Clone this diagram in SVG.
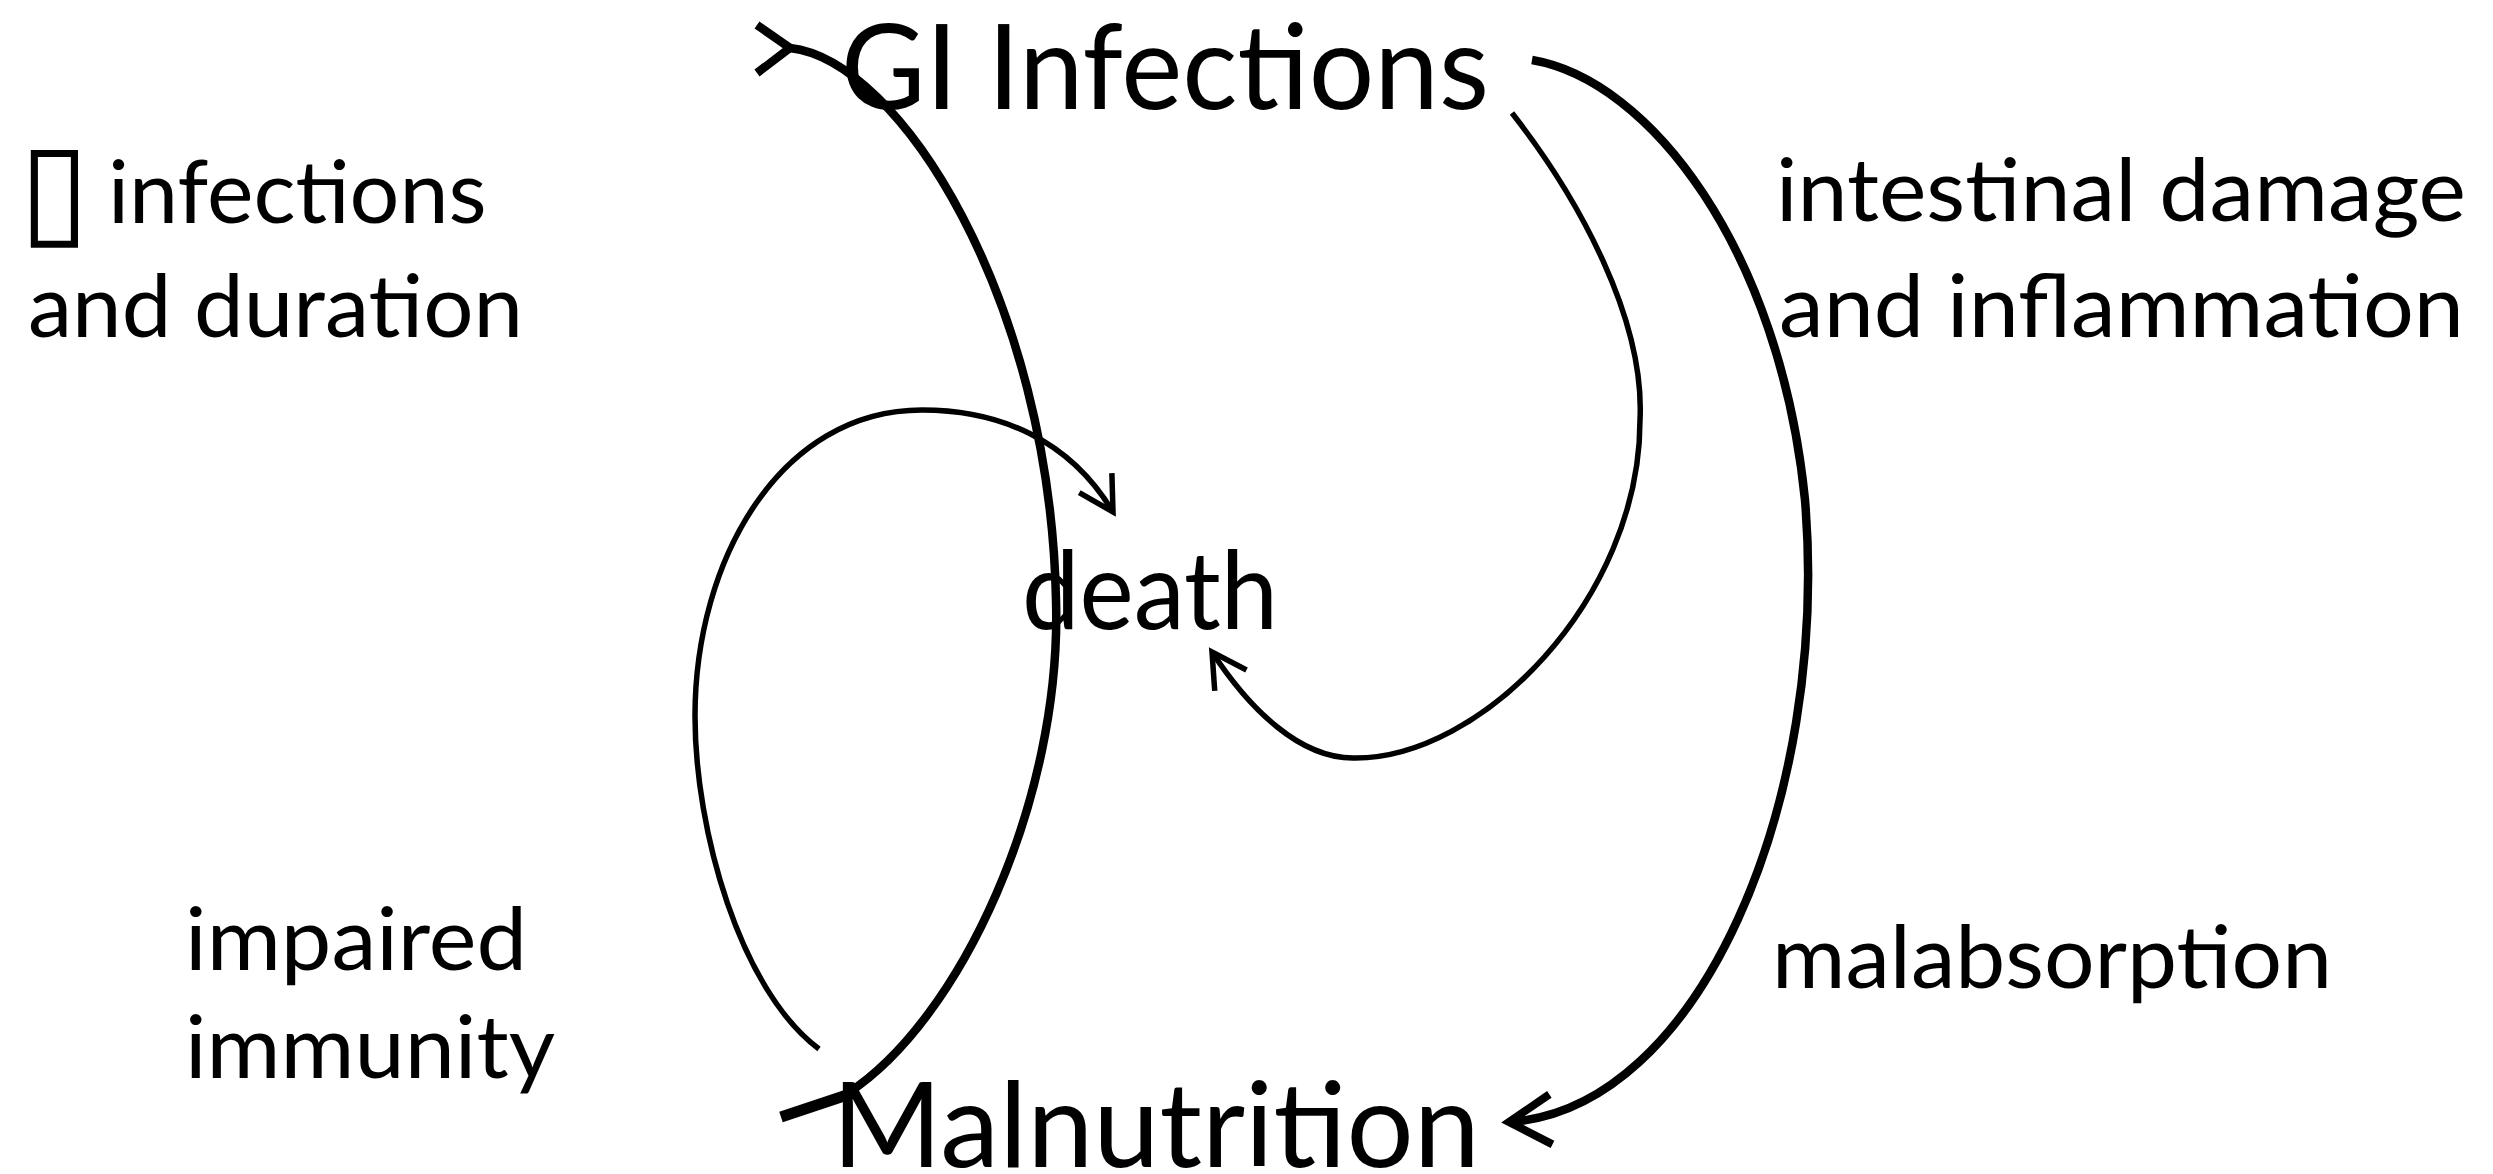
<svg xmlns="http://www.w3.org/2000/svg" width="2493" height="1174" viewBox="0 0 2493 1174">
<style>
.node{font-family:Lato,"Liberation Sans",sans-serif;font-size:118px;fill:#000}
.lbl{font-family:Lato,"Liberation Sans",sans-serif;font-size:88px;fill:#000}
.box{font-family:"DejaVu Sans",sans-serif;font-size:128px}
.c{fill:none;stroke:#000;stroke-linecap:butt;stroke-linejoin:miter}
.thick{stroke-width:8.5}
.thin{stroke-width:5.5}
</style>
<defs>
<marker id="open" markerUnits="userSpaceOnUse" orient="auto" markerWidth="60" markerHeight="60" refX="0" refY="0" viewBox="-50 -30 60 60" overflow="visible">
<path d="M -34 -19 L 0 0 L -34 19" fill="none" stroke="#000" stroke-width="5.5"/>
</marker>
<marker id="openBig" markerUnits="userSpaceOnUse" orient="auto" markerWidth="60" markerHeight="60" refX="0" refY="0" viewBox="-50 -30 60 60" overflow="visible">
<path d="M -42 -25 L 0 0 L -42 25" fill="none" stroke="#000" stroke-width="8"/>
</marker>
</defs>
<rect width="2493" height="1174" fill="#fff"/>
<g id="connectors">
<path id="mal-to-gi" class="c thick" d="M 848 1093 C 960 1020 1062 800 1056 600 C 1050 300 900 60 790 48"/>
<path class="c thick" d="M 757 25 L 790 48 L 757 73"/>
<path class="c" stroke-width="11" d="M 850 1094 L 781 1117"/>
<path id="mal-to-death" class="c thin" d="M 819 1049 C 740 990 695 830 695 716 C 695 560 780 410 922 410 C 1000 410 1070 440 1113 512" marker-end="url(#open)"/>
<path id="gi-to-death" class="c thin" d="M 1512 113 C 1580 200 1645 320 1640 420 C 1640 600 1480 760 1353 758 C 1300 758 1250 710 1212 652" marker-end="url(#open)"/>
<path id="gi-to-mal" class="c" stroke-width="8.5" d="M 1532 60 C 1650 80 1780 250 1805 500 C 1830 800 1700 1110 1509 1122" marker-end="url(#openBig)"/>
</g>
<g id="node-gi"><text class="node" x="841" y="109" textLength="648" lengthAdjust="spacingAndGlyphs">GI Infections</text></g>
<g id="node-death"><text class="node" x="1022" y="629" style="font-size:108px" textLength="256" lengthAdjust="spacingAndGlyphs">death</text></g>
<g id="node-mal"><text class="node" x="832" y="1167" textLength="648" lengthAdjust="spacingAndGlyphs">Malnutrition</text></g>
<g id="labels">
<g id="lbl-infections">
<text class="lbl"><tspan class="box" x="19" y="232">▯</tspan><tspan x="108" y="223">infections</tspan></text>
<text class="lbl" x="28" y="337" textLength="495" lengthAdjust="spacingAndGlyphs">and duration</text>
</g>
<g id="lbl-intestinal">
<text class="lbl" x="1776" y="221" textLength="690" lengthAdjust="spacingAndGlyphs">intestinal damage</text>
<text class="lbl" x="1779" y="337" textLength="685" lengthAdjust="spacingAndGlyphs">and inflammation</text>
</g>
<g id="lbl-immunity">
<text class="lbl" x="185" y="970" textLength="342" lengthAdjust="spacingAndGlyphs">impaired</text>
<text class="lbl" x="185" y="1078" textLength="370" lengthAdjust="spacingAndGlyphs">immunity</text>
</g>
<g id="lbl-malabs">
<text class="lbl" x="1772" y="988" textLength="560" lengthAdjust="spacingAndGlyphs">malabsorption</text>
</g>
</g>
</svg>
